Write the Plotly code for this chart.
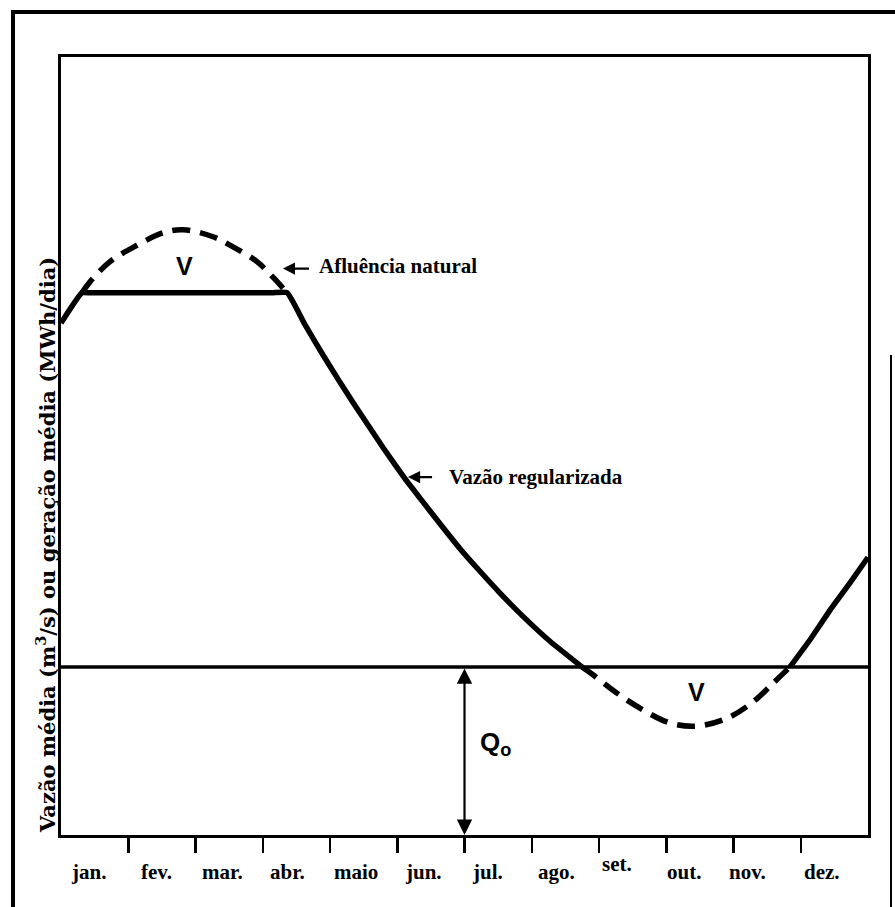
import plotly.graph_objects as go

# ---------------- data ----------------
months = ["jan.", "fev.", "mar.", "abr.", "maio", "jun.",
          "jul.", "ago.", "set.", "out.", "nov.", "dez."]

# natural inflow (Afluência natural), x in months from start of January
nat_month = [0.0, 0.312, 0.431, 0.729, 1.130, 1.517, 1.814, 2.260, 2.558, 2.914,
             3.152, 3.361, 3.628, 3.896, 4.119, 4.342, 4.565, 4.788, 5.115,
             5.338, 5.636, 5.933, 6.230, 6.528, 6.870, 7.271, 7.747, 7.911,
             8.208, 8.610, 9.056, 9.457, 9.903, 10.290, 10.587, 10.840,
             11.138, 11.435, 11.732, 12.0]
nat_flow = [65.8, 69.7, 71.1, 73.7, 75.8, 77.4, 77.8, 76.9, 75.6, 73.7,
            71.7, 69.7, 65.6, 61.7, 58.6, 55.6, 52.7, 49.8, 45.8,
            43.3, 40.0, 36.8, 33.9, 31.1, 28.1, 24.9, 21.6, 20.6,
            18.6, 16.3, 14.4, 14.0, 15.0, 17.1, 19.5, 21.6,
            25.1, 28.9, 32.4, 35.7]

q0 = 21.6          # guaranteed (firm) flow Q0
plateau = 69.7     # upper limit of regulated flow

# ---------------- derived series ----------------
dash_upper_y = [f if f >= plateau else None for f in nat_flow]
dash_lower_y = [f if f <= q0 else None for f in nat_flow]
# regulated flow: natural flow capped at the plateau; none below Q0 (Q0 line drawn separately)
reg_y = [None if f < q0 else min(f, plateau) for f in nat_flow]

fig = go.Figure()

# Q0 horizontal line across the year
fig.add_trace(go.Scatter(x=[0, 12], y=[q0, q0], mode="lines",
                         line=dict(color="black", width=3.5),
                         hoverinfo="skip", showlegend=False))
# natural inflow (dashed) above plateau
fig.add_trace(go.Scatter(x=nat_month, y=dash_upper_y, mode="lines",
                         line=dict(color="black", width=5.5, dash="18px,10px",
                                   shape="spline", smoothing=1.0),
                         connectgaps=False, hoverinfo="skip", showlegend=False))
# natural inflow (dashed) below Q0
fig.add_trace(go.Scatter(x=nat_month, y=dash_lower_y, mode="lines",
                         line=dict(color="black", width=5.5, dash="18px,10px",
                                   shape="spline", smoothing=1.0),
                         connectgaps=False, hoverinfo="skip", showlegend=False))
# regulated flow (solid)
fig.add_trace(go.Scatter(x=nat_month, y=reg_y, mode="lines",
                         line=dict(color="black", width=5.5, shape="spline", smoothing=0.4),
                         connectgaps=False, hoverinfo="skip", showlegend=False))

# ---------------- layout helpers ----------------
L, R, T, B = 61, 868, 57, 835   # plot box in pixels
W, H = 895, 907


def px_to_paper_x(px):
    return (px - L) / (R - L)


def py_to_paper_y(py):
    return (B - py) / (B - T)


serif = "Liberation Serif, Times New Roman, serif"
wide_serif = "DejaVu Serif, serif"
sans = "Liberation Sans, Arial, sans-serif"

annotations = []

# month labels under the axis
label_x = [0.416, 1.427, 2.394, 3.361, 4.387, 5.383, 6.335, 7.375, 8.268, 9.264, 10.215, 11.316]
label_dy = [0, 0, 0, 0, 0, 0, 0, 0, 8, 0, 0, 0]
for name, lx, dy in zip(months, label_x, label_dy):
    annotations.append(dict(x=lx, y=py_to_paper_y(872 - dy), xref="x", yref="paper",
                            text=name, showarrow=False, xanchor="center", yanchor="middle",
                            font=dict(family=serif, size=21, color="black", weight="bold")))

# y-axis title (rotated)
annotations.append(dict(x=px_to_paper_x(46), y=py_to_paper_y(545), xref="paper", yref="paper",
                        text="Vazão média (m<sup>3</sup>/s) ou geração média (MWh/dia)",
                        textangle=-90, showarrow=False, xanchor="center", yanchor="middle",
                        font=dict(family=wide_serif, size=21, color="black", weight="bold")))

# "V" volume labels
annotations.append(dict(x=1.84, y=73.1, xref="x", yref="y", text="V", showarrow=False,
                        font=dict(family=sans, size=25, color="black", weight="bold")))
annotations.append(dict(x=9.457, y=18.4, xref="x", yref="y", text="V", showarrow=False,
                        font=dict(family=sans, size=25, color="black", weight="bold")))

# Q0 label
annotations.append(dict(x=6.2, y=11.8, xref="x", yref="y", text="Q<sub>o</sub>",
                        showarrow=False, xanchor="left", yanchor="middle",
                        font=dict(family=sans, size=26, color="black", weight="bold")))

# Q0 double arrow
annotations.append(dict(x=6.0, y=0, ax=6.0, ay=q0, xref="x", yref="y", axref="x", ayref="y",
                        text="", showarrow=True, arrowhead=2, arrowside="end+start",
                        arrowwidth=2.2, arrowsize=1.4, arrowcolor="black"))

# "Afluência natural" label and arrow
annotations.append(dict(x=3.30, y=72.8, ax=3.71, ay=72.8, xref="x", yref="y", axref="x", ayref="y",
                        text="", showarrow=True, arrowhead=2, arrowwidth=2.2, arrowsize=1.1,
                        arrowcolor="black"))
annotations.append(dict(x=3.80, y=73.1, xref="x", yref="y", text="Afluência natural",
                        showarrow=False, xanchor="left", yanchor="middle",
                        font=dict(family=serif, size=21, color="black", weight="bold")))

# "Vazão regularizada" label and arrow
annotations.append(dict(x=5.16, y=46.0, ax=5.54, ay=46.0, xref="x", yref="y", axref="x", ayref="y",
                        text="", showarrow=True, arrowhead=2, arrowwidth=2.2, arrowsize=1.1,
                        arrowcolor="black"))
annotations.append(dict(x=5.74, y=46.0, xref="x", yref="y", text="Vazão regularizada",
                        showarrow=False, xanchor="left", yanchor="middle",
                        font=dict(family=serif, size=21, color="black", weight="bold")))

# outer page frame and scan edge line
shapes = [
    dict(type="line", xref="paper", yref="paper",
         x0=px_to_paper_x(13), x1=px_to_paper_x(13),
         y0=py_to_paper_y(H), y1=py_to_paper_y(10),
         line=dict(color="black", width=4)),
    dict(type="line", xref="paper", yref="paper",
         x0=px_to_paper_x(11), x1=px_to_paper_x(W),
         y0=py_to_paper_y(12), y1=py_to_paper_y(12),
         line=dict(color="black", width=4)),
    dict(type="line", xref="paper", yref="paper",
         x0=px_to_paper_x(891), x1=px_to_paper_x(891),
         y0=py_to_paper_y(H), y1=py_to_paper_y(355),
         line=dict(color="black", width=2)),
]

fig.update_layout(
    width=W, height=H,
    margin=dict(l=L, r=W - R, t=T, b=H - B, pad=0),
    paper_bgcolor="white", plot_bgcolor="white",
    showlegend=False,
    annotations=annotations,
    shapes=shapes,
    xaxis=dict(range=[0, 12], showgrid=False, zeroline=False,
               showline=True, mirror=True, linecolor="black", linewidth=3,
               tickmode="array", tickvals=list(range(1, 12)),
               ticktext=[""] * 11, ticks="outside", ticklen=15, tickwidth=2.5,
               tickcolor="black", showticklabels=False, fixedrange=True),
    yaxis=dict(range=[0, 100], showgrid=False, zeroline=False,
               showline=True, mirror=True, linecolor="black", linewidth=3,
               ticks="", showticklabels=False, fixedrange=True),
)

fig.write_html("out.html",
               config={"displayModeBar": False, "staticPlot": True},
               post_script="document.body.style.margin='0px';document.body.style.overflow='hidden';")
